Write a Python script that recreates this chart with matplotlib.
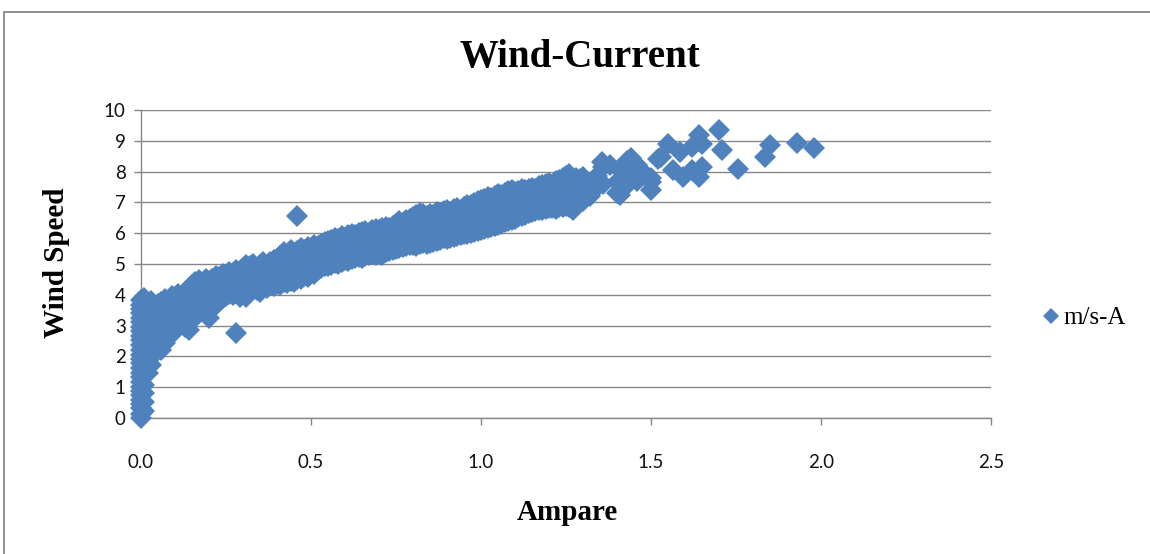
import matplotlib
matplotlib.use("Agg")
import matplotlib.pyplot as plt
from matplotlib.patches import Rectangle
from matplotlib.lines import Line2D

# Generator output current (A) and matching wind speed (m/s)
ampere_idle = [
    0.00, 0.00, 0.00, 0.00, 0.00, 0.00, 0.00, 0.00, 0.00, 0.00, 0.00, 0.00, 0.00, 0.00,
    0.00, 0.00, 0.00, 0.00, 0.00, 0.00, 0.00, 0.00, 0.00, 0.00, 0.00, 0.00, 0.00,
    0.01, 0.01, 0.01, 0.01, 0.01, 0.01, 0.01, 0.01, 0.01, 0.01, 0.01, 0.01, 0.01,
    0.02, 0.02, 0.02, 0.02, 0.02, 0.02, 0.02, 0.02,
    0.03, 0.03, 0.03, 0.03, 0.03, 0.03, 0.03,
]
wind_idle = [
    0.00, 0.12, 0.31, 0.45, 0.58, 0.74, 0.88, 1.02, 1.17, 1.33, 1.46, 1.61, 1.77, 1.90,
    2.06, 2.21, 2.37, 2.52, 2.66, 2.83, 2.97, 3.12, 3.26, 3.41, 3.55, 3.68, 3.82,
    0.22, 0.53, 0.81, 1.08, 1.39, 1.70, 2.02, 2.31, 2.64, 2.92, 3.24, 3.53, 3.88,
    1.45, 1.83, 2.15, 2.48, 2.79, 3.05, 3.36, 3.65,
    1.72, 2.06, 2.41, 2.73, 3.18, 3.47, 3.79,
]

ampere_low = [
    0.04, 0.04, 0.04, 0.04, 0.04, 0.05, 0.05, 0.05, 0.05, 0.05, 0.06, 0.06, 0.06, 0.06, 0.06,
    0.07, 0.07, 0.07, 0.07, 0.07, 0.08, 0.08, 0.08, 0.08, 0.09, 0.09, 0.09, 0.09,
    0.10, 0.10, 0.10, 0.10, 0.11, 0.11, 0.11, 0.11, 0.12, 0.12, 0.12,
    0.13, 0.13, 0.13, 0.13, 0.14, 0.14, 0.14, 0.14, 0.15, 0.15, 0.15, 0.15,
    0.16, 0.16, 0.16, 0.16, 0.17, 0.17, 0.17, 0.17, 0.18, 0.18, 0.18,
    0.19, 0.19, 0.19, 0.19, 0.20, 0.20, 0.20, 0.20, 0.21, 0.21, 0.21,
    0.22, 0.22, 0.22, 0.22, 0.23, 0.23, 0.23, 0.24, 0.24, 0.24, 0.25, 0.25, 0.25,
    0.26, 0.26, 0.26, 0.27, 0.27, 0.27, 0.28, 0.28, 0.28, 0.28, 0.29, 0.29, 0.29,
    0.30, 0.30, 0.30, 0.31, 0.31, 0.31, 0.31, 0.32, 0.32, 0.32, 0.33, 0.33, 0.33,
    0.34, 0.34, 0.34, 0.35, 0.35, 0.35, 0.36, 0.36, 0.36, 0.37, 0.37, 0.37,
    0.38, 0.38, 0.38, 0.39, 0.39, 0.39, 0.40, 0.40, 0.40, 0.41, 0.41, 0.41,
    0.42, 0.42, 0.42, 0.43, 0.43, 0.43, 0.44, 0.44, 0.44, 0.45, 0.45, 0.45,
    0.46, 0.46, 0.46, 0.46, 0.47, 0.47, 0.47, 0.48, 0.48, 0.48, 0.49, 0.49, 0.49,
    0.50, 0.50, 0.50,
]
wind_low = [
    2.12, 2.55, 2.88, 3.30, 3.62, 2.28, 2.67, 3.02, 3.44, 3.71, 2.21, 2.60, 2.95, 3.37, 3.78,
    2.45, 2.83, 3.21, 3.58, 3.86, 2.62, 3.00, 3.40, 3.74, 2.74, 3.13, 3.52, 3.96,
    2.91, 3.30, 3.68, 3.92, 3.08, 3.45, 3.82, 4.03, 3.14, 3.55, 3.90,
    2.96, 3.36, 3.71, 4.10, 2.86, 3.25, 3.64, 4.05, 3.18, 3.58, 3.96, 4.33,
    3.29, 3.70, 4.12, 4.40, 3.42, 3.83, 4.22, 4.48, 3.51, 3.92, 4.30,
    3.47, 3.88, 4.26, 4.52, 3.25, 3.63, 4.03, 4.44, 3.72, 4.11, 4.50,
    3.68, 4.07, 4.38, 4.61, 3.84, 4.21, 4.57, 3.90, 4.29, 4.68, 3.96, 4.34, 4.62,
    4.02, 4.41, 4.73, 3.98, 4.36, 4.70, 2.76, 4.05, 4.47, 4.82, 3.94, 4.30, 4.66,
    4.08, 4.52, 4.88, 3.93, 4.33, 4.75, 4.97, 4.12, 4.58, 4.92, 4.20, 4.63, 5.01,
    4.16, 4.49, 4.86, 4.10, 4.55, 4.98, 4.25, 4.70, 5.06, 4.22, 4.61, 4.94,
    4.31, 4.76, 5.08, 4.28, 4.68, 5.12, 4.35, 4.80, 5.17, 4.33, 4.72, 5.25,
    4.40, 4.89, 5.38, 4.37, 4.81, 5.30, 4.46, 4.95, 5.47, 4.42, 4.88, 5.35,
    4.51, 5.02, 5.41, 6.55, 4.50, 4.97, 5.52, 4.62, 5.08, 5.45, 4.58, 5.11, 5.56,
    4.71, 5.16, 5.49,
]

ampere_mid = [
    0.51, 0.51, 0.51, 0.52, 0.52, 0.52, 0.53, 0.53, 0.53, 0.54, 0.54, 0.54,
    0.55, 0.55, 0.55, 0.56, 0.56, 0.56, 0.57, 0.57, 0.57, 0.58, 0.58, 0.58,
    0.59, 0.59, 0.59, 0.60, 0.60, 0.60, 0.61, 0.61, 0.61, 0.62, 0.62, 0.62,
    0.63, 0.63, 0.63, 0.64, 0.64, 0.64, 0.65, 0.65, 0.65, 0.66, 0.66, 0.66,
    0.67, 0.67, 0.67, 0.68, 0.68, 0.68, 0.69, 0.69, 0.69, 0.70, 0.70, 0.70,
    0.71, 0.71, 0.71, 0.72, 0.72, 0.72, 0.73, 0.73, 0.73, 0.74, 0.74, 0.74,
    0.75, 0.75, 0.75, 0.76, 0.76, 0.76, 0.77, 0.77, 0.77, 0.78, 0.78, 0.78,
    0.79, 0.79, 0.79, 0.80, 0.80, 0.80, 0.81, 0.81, 0.81, 0.82, 0.82, 0.82,
    0.83, 0.83, 0.83, 0.84, 0.84, 0.84, 0.85, 0.85, 0.85, 0.86, 0.86, 0.86,
    0.87, 0.87, 0.87, 0.88, 0.88, 0.88, 0.89, 0.89, 0.89, 0.90, 0.90, 0.90,
    0.91, 0.91, 0.91, 0.92, 0.92, 0.92, 0.93, 0.93, 0.93, 0.94, 0.94, 0.94,
    0.95, 0.95, 0.95, 0.96, 0.96, 0.96, 0.97, 0.97, 0.97, 0.98, 0.98, 0.98,
    0.99, 0.99, 0.99, 1.00, 1.00, 1.00,
]
wind_mid = [
    4.69, 5.20, 5.61, 4.80, 5.24, 5.57, 4.86, 5.30, 5.66, 4.92, 5.35, 5.70,
    4.95, 5.28, 5.74, 4.98, 5.41, 5.79, 5.03, 5.46, 5.85, 5.00, 5.38, 5.82,
    5.07, 5.50, 5.90, 5.12, 5.55, 5.86, 5.10, 5.49, 5.93, 5.15, 5.60, 5.98,
    5.19, 5.57, 5.95, 5.22, 5.64, 6.02, 5.18, 5.69, 6.05, 5.25, 5.72, 6.08,
    5.28, 5.66, 6.01, 5.31, 5.77, 6.12, 5.29, 5.74, 6.15, 5.33, 5.80, 6.10,
    5.30, 5.83, 6.18, 5.38, 5.86, 6.21, 5.42, 5.79, 6.16, 5.45, 5.90, 6.25,
    5.48, 5.94, 6.30, 5.52, 5.91, 6.38, 5.55, 5.99, 6.34, 5.58, 6.04, 6.42,
    5.61, 6.02, 6.47, 5.63, 6.08, 6.52, 5.60, 6.11, 6.58, 5.66, 6.15, 6.66,
    5.68, 6.19, 6.61, 5.64, 6.12, 6.55, 5.67, 6.22, 6.63, 5.72, 6.18, 6.59,
    5.75, 6.26, 6.68, 5.79, 6.30, 6.64, 5.83, 6.27, 6.71, 5.82, 6.33, 6.74,
    5.86, 6.36, 6.70, 5.89, 6.39, 6.78, 5.91, 6.42, 6.81, 5.94, 6.38, 6.76,
    5.96, 6.45, 6.85, 5.98, 6.48, 6.90, 6.02, 6.51, 6.93, 6.05, 6.55, 6.98,
    6.08, 6.52, 7.03, 6.11, 6.58, 7.08,
]

ampere_high = [
    1.01, 1.01, 1.01, 1.02, 1.02, 1.02, 1.03, 1.03, 1.03, 1.04, 1.04, 1.04,
    1.05, 1.05, 1.05, 1.06, 1.06, 1.06, 1.07, 1.07, 1.07, 1.08, 1.08, 1.08,
    1.09, 1.09, 1.09, 1.10, 1.10, 1.10, 1.11, 1.11, 1.11, 1.12, 1.12, 1.12,
    1.13, 1.13, 1.13, 1.14, 1.14, 1.14, 1.15, 1.15, 1.15, 1.16, 1.16, 1.16,
    1.17, 1.17, 1.17, 1.18, 1.18, 1.18, 1.19, 1.19, 1.19, 1.20, 1.20, 1.20,
    1.21, 1.21, 1.21, 1.22, 1.22, 1.22, 1.23, 1.23, 1.23, 1.24, 1.24, 1.24,
    1.25, 1.25, 1.25, 1.26, 1.26, 1.26, 1.27, 1.27, 1.27, 1.28, 1.28, 1.28,
    1.29, 1.29, 1.29, 1.30, 1.30, 1.30, 1.32, 1.32, 1.34, 1.34, 1.355,
    1.36, 1.36, 1.38, 1.40, 1.40, 1.41, 1.41, 1.43, 1.43, 1.44, 1.44,
    1.46, 1.46, 1.48, 1.50, 1.50, 1.50,
]
wind_high = [
    6.14, 6.62, 7.12, 6.17, 6.66, 7.19, 6.20, 6.70, 7.15, 6.24, 6.73, 7.22,
    6.28, 6.77, 7.27, 6.31, 6.80, 7.24, 6.35, 6.84, 7.31, 6.39, 6.88, 7.36,
    6.43, 6.91, 7.40, 6.47, 6.95, 7.33, 6.52, 6.98, 7.38, 6.56, 7.02, 7.42,
    6.60, 7.05, 7.39, 6.65, 7.09, 7.45, 6.70, 7.12, 7.48, 6.72, 7.08, 7.44,
    6.74, 7.15, 7.52, 6.76, 7.18, 7.56, 6.79, 7.21, 7.60, 6.81, 7.24, 7.63,
    6.83, 7.20, 7.58, 6.80, 7.27, 7.68, 6.86, 7.31, 7.72, 6.84, 7.35, 7.78,
    6.88, 7.29, 7.85, 6.86, 7.38, 7.92, 6.75, 7.12, 7.60, 6.92, 7.42, 7.80,
    7.00, 7.34, 7.75, 7.05, 7.48, 7.82, 7.20, 7.55, 7.50, 7.85, 8.30,
    7.60, 8.15, 8.20, 7.30, 7.65, 7.25, 8.05, 7.55, 8.35, 7.80, 8.44,
    8.20, 7.70, 7.95, 7.40, 7.66, 7.80,
]

ampere_peak = [
    1.52, 1.53, 1.55, 1.565, 1.585, 1.595, 1.62, 1.62, 1.64, 1.64, 1.65, 1.65,
    1.70, 1.71, 1.756, 1.835, 1.85, 1.93, 1.98,
]
wind_peak = [
    8.40, 8.47, 8.90, 8.05, 8.64, 7.83, 8.05, 8.80, 7.82, 9.19, 8.15, 8.90,
    9.35, 8.70, 8.10, 8.48, 8.86, 8.92, 8.77,
]

x_ticks = [0.0, 0.5, 1.0, 1.5, 2.0, 2.5]
y_ticks = [0, 1, 2, 3, 4, 5, 6, 7, 8, 9, 10]
series_label = "m/s-A"

ampere = ampere_idle + ampere_low + ampere_mid + ampere_high + ampere_peak
wind = wind_idle + wind_low + wind_mid + wind_high + wind_peak

W, H = 1150, 554
BLUE = "#4F81BD"
GRAY = "#868686"
SERIF = ["Liberation Serif", "DejaVu Serif"]
TICKFONT = ["Lato", "DejaVu Sans"]

fig = plt.figure(figsize=(W / 100, H / 100), dpi=100)
fig.patch.set_facecolor("white")

# chart-area border
fig.patches.append(Rectangle((4 / W, -0.05), 1.2, 1 - 12 / H + 0.05,
                             transform=fig.transFigure, fill=False,
                             edgecolor=GRAY, linewidth=1.3))

left, right, bottom, top = 141 / W, 991 / W, 1 - 418 / H, 1 - 110 / H
ax = fig.add_axes([left, bottom, right - left, top - bottom])
ax.set_xlim(0, 2.5)
ax.set_ylim(0, 10)
ax.set_xticks(x_ticks)
ax.set_xticklabels([f"{t:.1f}" for t in x_ticks])
ax.set_yticks(y_ticks)

ax.yaxis.grid(True, color=GRAY, linewidth=1.0)
ax.set_axisbelow(True)
for side in ("top", "right"):
    ax.spines[side].set_visible(False)
for side in ("left", "bottom"):
    ax.spines[side].set_color(GRAY)
    ax.spines[side].set_linewidth(1.0)

ax.tick_params(axis="y", direction="out", length=5, width=1, color=GRAY,
               pad=6, labelsize=13.5, labelcolor="#111111")
ax.tick_params(axis="x", direction="out", length=5, width=1, color=GRAY,
               pad=21, labelsize=13.5, labelcolor="#111111")
for lab in ax.get_xticklabels() + ax.get_yticklabels():
    lab.set_family(TICKFONT)

ax.plot(ampere, wind, linestyle="none", marker="D", markersize=11,
        markerfacecolor=BLUE, markeredgewidth=0, clip_on=False, zorder=3)

fig.text(580 / W, 1 - 57 / H, "Wind-Current", ha="center", va="center",
         family=SERIF, fontweight="bold", fontsize=28)
fig.text(567 / W, 1 - 512 / H, "Ampare", ha="center", va="center",
         family=SERIF, fontweight="bold", fontsize=21)
fig.text(57 / W, 1 - 263 / H, "Wind Speed", ha="center", va="center",
         rotation=90, family=SERIF, fontweight="bold", fontsize=21)

handle = Line2D([], [], linestyle="none", marker="D", markersize=8.5,
                markerfacecolor=BLUE, markeredgewidth=0)
fig.legend([handle], [series_label], loc="center left",
           bbox_to_anchor=(1043 / W, 1 - 318 / H), frameon=False,
           handlelength=0.6, handletextpad=0.2, borderpad=0, borderaxespad=0,
           prop={"family": SERIF, "size": 18})

fig.savefig("out.png", dpi=100, facecolor="white")
